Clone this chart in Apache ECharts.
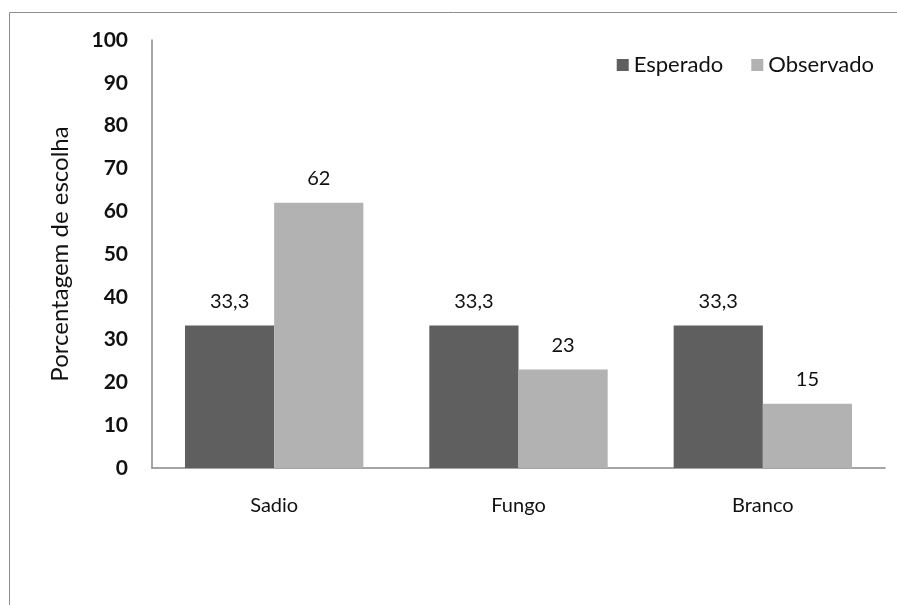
<!DOCTYPE html>
<html>
<head>
<meta charset="utf-8">
<script src="https://cdn.jsdelivr.net/npm/echarts@6/dist/echarts.min.js"></script>
<style>
  html, body { margin: 0; padding: 0; background: #fff; }
  #chart { width: 897px; height: 605px; }
</style>
</head>
<body>
<div id="chart"></div>
<script>
// Choice percentages: expected vs observed per treatment
const categories = ['Sadio', 'Fungo', 'Branco'];
const esperado = [33.3, 33.3, 33.3];
const observado = [62, 23, 15];
const yTicks = { min: 0, max: 100, interval: 10 };

const FONT = 'Lato, "Open Sans", sans-serif';
const chart = echarts.init(document.getElementById('chart'));

const fmtLabel = p => String(p.value).replace('.', ',');

chart.setOption({
  animation: false,
  backgroundColor: '#fff',
  graphic: [{
    type: 'rect',
    shape: { x: 9.5, y: 12.5, width: 900, height: 620 },
    style: { fill: 'none', stroke: '#8c8c8c', lineWidth: 1 },
    silent: true,
    z: 0
  }],
  legend: {
    top: 49,
    right: 18,
    itemWidth: 12,
    itemHeight: 12,
    itemGap: 28,
    icon: 'rect',
    textStyle: { fontFamily: FONT, fontSize: 22, color: '#111' },
    data: ['Esperado', 'Observado']
  },
  grid: { left: 152, right: 12, top: 40, bottom: 137 },
  xAxis: {
    type: 'category',
    data: categories,
    axisLine: { lineStyle: { color: '#888', width: 1.5 } },
    axisTick: { show: false },
    axisLabel: { fontFamily: FONT, fontSize: 20, color: '#111', margin: 28 }
  },
  yAxis: {
    type: 'value',
    min: yTicks.min,
    max: yTicks.max,
    interval: yTicks.interval,
    name: 'Porcentagem de escolha',
    nameLocation: 'middle',
    nameGap: 80,
    nameTextStyle: { fontFamily: FONT, fontSize: 24, color: '#111' },
    axisLine: { show: true, lineStyle: { color: '#888', width: 1.5 } },
    axisTick: { show: false },
    splitLine: { show: false },
    axisLabel: { fontFamily: FONT, fontSize: 21, color: '#111', margin: 24, fontWeight: 'bold' }
  },
  series: [
    {
      name: 'Esperado',
      type: 'bar',
      data: esperado,
      barGap: '0%',
      barCategoryGap: '27%',
      itemStyle: { color: '#5f5f5f' },
      label: {
        show: true, position: 'top', distance: 14,
        formatter: fmtLabel,
        fontFamily: FONT, fontSize: 20, color: '#111'
      }
    },
    {
      name: 'Observado',
      type: 'bar',
      data: observado,
      itemStyle: { color: '#b2b2b2' },
      label: {
        show: true, position: 'top', distance: 14,
        formatter: fmtLabel,
        fontFamily: FONT, fontSize: 20, color: '#111'
      }
    }
  ]
});
</script>
</body>
</html>
